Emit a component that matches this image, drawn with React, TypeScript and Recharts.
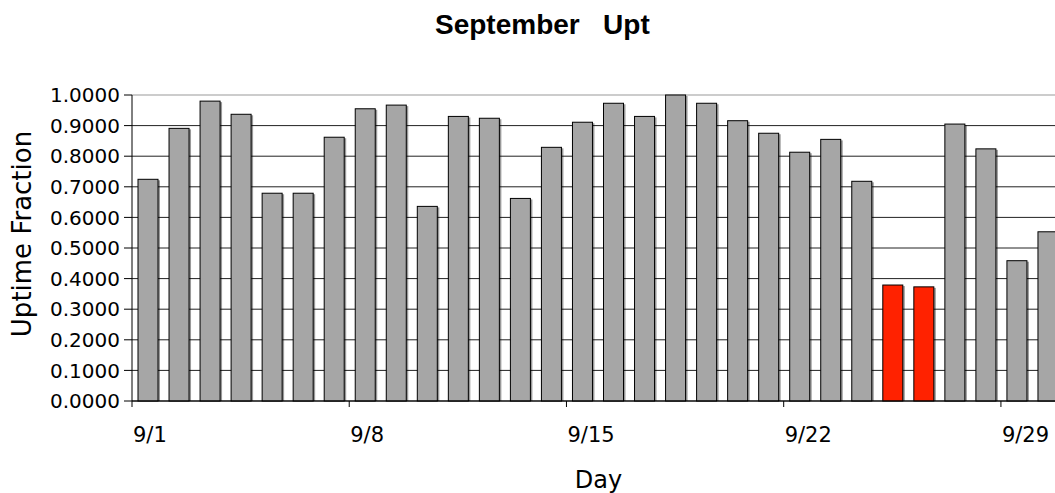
import React from "react";
import { BarChart, Bar, XAxis, YAxis, CartesianGrid } from "recharts";

const days = [
  "9/1", "9/2", "9/3", "9/4", "9/5", "9/6", "9/7", "9/8", "9/9", "9/10",
  "9/11", "9/12", "9/13", "9/14", "9/15", "9/16", "9/17", "9/18", "9/19", "9/20",
  "9/21", "9/22", "9/23", "9/24", "9/25", "9/26", "9/27", "9/28", "9/29", "9/30",
];

const uptime = [
  0.7245, 0.891, 0.98, 0.937, 0.679, 0.679, 0.862, 0.955, 0.967, 0.636,
  0.93, 0.924, 0.662, 0.829, 0.911, 0.973, 0.93, 1.0, 0.973, 0.916,
  0.875, 0.813, 0.855, 0.718, 0.379, 0.373, 0.905, 0.824, 0.4585, 0.553,
];

// days drawn in red
const flaggedDays = ["9/25", "9/26"];

const yTicks = [0, 0.1, 0.2, 0.3, 0.4, 0.5, 0.6, 0.7, 0.8, 0.9, 1.0];

const CHART_W = 1080;
const CHART_H = 493;
const PLOT_TOP = 95;
const X_AXIS_H = 92;
const Y_AXIS_W = 132;
const RIGHT = 17;
const PLOT_BOTTOM = CHART_H - X_AXIS_H;
const BAND = (CHART_W - Y_AXIS_W - RIGHT) / days.length;

const FONT = "DejaVu Sans";

const data = days.map((d, i) => ({
  day: d,
  uptime: uptime[i],
  flag: flaggedDays.includes(d),
}));

const ShadowBar = (props: any) => {
  const { x, y, width, height, payload } = props;
  if (height <= 0) return null;
  const fill = payload.flag ? "#ff2200" : "#a6a6a6";
  return (
    <g>
      <rect x={x + 2} y={y + 1} width={width} height={height - 1} fill="#000" fillOpacity={0.4} />
      <rect x={x} y={y} width={width} height={height} fill={fill} stroke="#000" strokeWidth={1} />
    </g>
  );
};

const DayTick = (props: any) => {
  const { x, payload } = props;
  const half = payload.offset ?? BAND / 2;
  const bx = x - half;
  return (
    <g>
      <line x1={bx} y1={PLOT_BOTTOM} x2={bx} y2={PLOT_BOTTOM + 6} stroke="#000" />
      <text x={bx + 1} y={PLOT_BOTTOM + 41} fontSize={21} fontFamily={FONT} fill="#000">
        {payload.value}
      </text>
    </g>
  );
};

const GridLine = (props: any) => {
  const { x1, x2, y1, y2 } = props;
  const top = Math.abs(y1 - PLOT_TOP) < 1;
  return <line x1={x1} x2={x2} y1={y1} y2={y2} stroke={top ? "#999" : "#222"} strokeWidth={1} />;
};

export default function App() {
  return (
    <div
      style={{
        position: "fixed",
        left: 0,
        top: 0,
        width: 1055,
        height: 493,
        overflow: "hidden",
        background: "#fff",
      }}
    >
      <div
        style={{
          position: "absolute",
          left: 435,
          top: 11,
          lineHeight: "28px",
          fontSize: 28,
          fontWeight: "bold",
          fontFamily: "Liberation Sans",
          whiteSpace: "pre",
          color: "#000",
        }}
      >
        {"September   Upt"}
      </div>
      <BarChart
        width={CHART_W}
        height={CHART_H}
        data={data}
        margin={{ top: PLOT_TOP, right: RIGHT, bottom: 0, left: 0 }}
        barSize={20}
      >
        <CartesianGrid vertical={false} horizontal={GridLine} />
        <XAxis
          dataKey="day"
          interval={6}
          height={X_AXIS_H}
          tickLine={false}
          axisLine={{ stroke: "#000" }}
          tick={DayTick}
          label={{
            content: (p: any) => {
              const vb = p.viewBox;
              return (
                <text
                  x={vb.x + vb.width / 2 + 1}
                  y={vb.y + 87}
                  textAnchor="middle"
                  fontSize={24}
                  fontFamily={FONT}
                  fill="#000"
                >
                  Day
                </text>
              );
            },
          }}
        />
        <YAxis
          width={Y_AXIS_W}
          domain={[0, 1]}
          ticks={yTicks}
          tickFormatter={(v: number) => v.toFixed(4)}
          tickSize={8}
          tickMargin={4}
          tick={{ fontSize: 20, fontFamily: FONT, fill: "#000" }}
          axisLine={{ stroke: "#000" }}
          tickLine={{ stroke: "#000" }}
          label={{
            content: (p: any) => {
              const vb = p.viewBox;
              const cx = vb.x + 22;
              const cy = vb.y + vb.height / 2 - 14;
              return (
                <text
                  x={cx}
                  y={cy}
                  transform={`rotate(-90 ${cx} ${cy})`}
                  textAnchor="middle"
                  dominantBaseline="central"
                  fontSize={26}
                  fontFamily={FONT}
                  fill="#000"
                >
                  Uptime Fraction
                </text>
              );
            },
          }}
        />
        <Bar dataKey="uptime" shape={ShadowBar} isAnimationActive={false} />
      </BarChart>
    </div>
  );
}
